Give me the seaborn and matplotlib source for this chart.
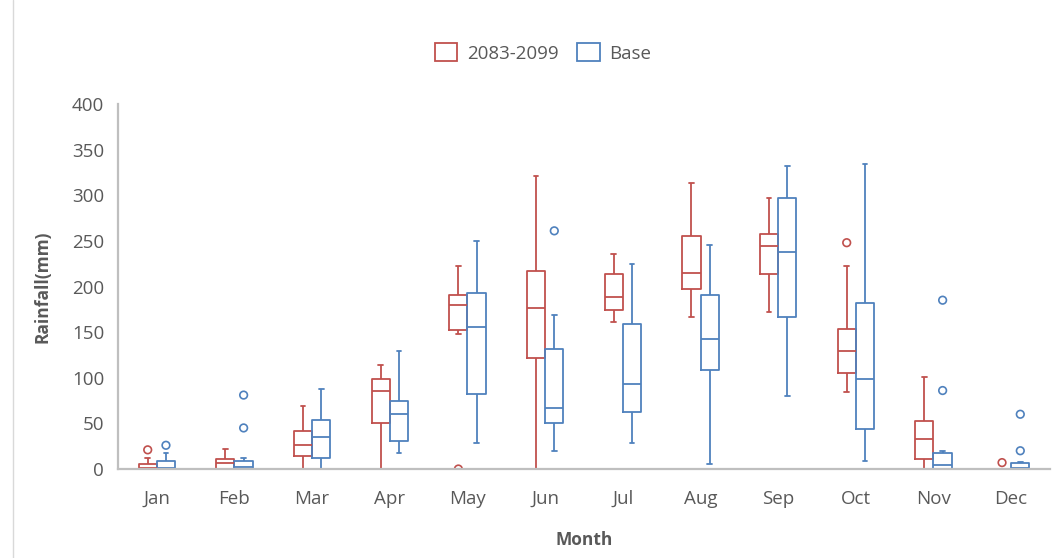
import numpy as np
import pandas as pd
import matplotlib
matplotlib.use("Agg")
import matplotlib.pyplot as plt
from matplotlib.patches import Patch
from matplotlib.lines import Line2D
import seaborn as sns

# ---- data: monthly rainfall (mm) box summaries ----
months = ["Jan", "Feb", "Mar", "Apr", "May", "Jun",
          "Jul", "Aug", "Sep", "Oct", "Nov", "Dec"]
periods = ["2083-2099", "Base"]

fut_low = [0, 0, 0, 0, 148, 0, 161, 167, 172, 84, 0, 0]
fut_q1 = [0, 0, 14, 50, 152, 122, 174, 197, 214, 105, 11, 0]
fut_med = [1, 7, 26, 86, 180, 176, 188, 215, 244, 129, 33, 0]
fut_q3 = [5, 11, 42, 99, 191, 217, 214, 255, 257, 153, 53, 0]
fut_high = [12, 22, 69, 114, 222, 321, 236, 313, 297, 223, 101, 0]
fut_out = {"Jan": [21], "May": [0], "Oct": [248], "Dec": [7]}

base_low = [0, 0, 0, 17, 29, 20, 29, 6, 80, 9, 0, 0]
base_q1 = [0, 0, 12, 31, 82, 50, 63, 108, 167, 44, 0, 0]
base_med = [1, 2, 35, 60, 156, 67, 93, 142, 238, 99, 4, 1]
base_q3 = [9, 9, 54, 75, 193, 131, 159, 191, 297, 182, 18, 7]
base_high = [17, 12, 88, 129, 250, 169, 225, 246, 332, 334, 20, 8]
base_out = {"Jan": [26], "Feb": [45, 81], "Jun": [261],
            "Nov": [86, 185], "Dec": [20, 60]}

yticks = [0, 50, 100, 150, 200, 250, 300, 350, 400]

# ---- styling ----
RED = "#C0504D"
BLUE = "#4F81BD"
TEXT = "#595959"
AXIS = "#BFBFBF"
BOX_WIDTH = 0.47

sns.set_theme(style="white")
plt.rcParams["font.family"] = ["Open Sans", "DejaVu Sans"]

# five-number summaries as long-form observations
rows = []
summaries = {
    "2083-2099": (fut_low, fut_q1, fut_med, fut_q3, fut_high),
    "Base": (base_low, base_q1, base_med, base_q3, base_high),
}
for period, stats in summaries.items():
    for i, m in enumerate(months):
        for arr in stats:
            rows.append({"Month": m, "Period": period, "Rainfall": arr[i]})
df = pd.DataFrame(rows)

# outliers placed at the centre of their dodged box
out_rows = []
for k, (period, outs) in enumerate([("2083-2099", fut_out), ("Base", base_out)]):
    shift = (-1 if k == 0 else 1) * BOX_WIDTH / 4
    for m, vals in outs.items():
        for v in vals:
            out_rows.append({"x": months.index(m) + shift, "y": v, "Period": period})
odf = pd.DataFrame(out_rows)

fig = plt.figure(figsize=(10.55, 5.58), dpi=100)
ax = fig.add_axes([118 / 1055, 1 - 469 / 558, (1050 - 118) / 1055, (469 - 104) / 558])

sns.boxplot(
    data=df, x="Month", y="Rainfall", hue="Period",
    order=months, hue_order=periods, palette=[RED, BLUE],
    fill=False, width=BOX_WIDTH, gap=0, whis=(0, 100),
    showfliers=False, linewidth=1.3, capwidths=0.06,
    legend=False, ax=ax,
)
sns.scatterplot(
    data=odf, x="x", y="y", hue="Period", hue_order=periods,
    palette=[RED, BLUE], marker="o", s=30, linewidth=1.2,
    facecolors="none", legend=False, ax=ax, zorder=3,
)
# open circles take their colour from the edge
for coll in ax.collections:
    fc = coll.get_facecolors()
    if len(fc):
        coll.set_edgecolors(fc)
        coll.set_facecolors("none")

ax.set_xlim(-0.5, len(months) - 0.5)
ax.set_ylim(0, 400)
ax.set_yticks(yticks)
ax.tick_params(axis="both", length=0, colors=TEXT, labelsize=13.5)
ax.tick_params(axis="y", pad=10)
ax.tick_params(axis="x", pad=15)

for side in ["top", "right"]:
    ax.spines[side].set_visible(False)
for side in ["left", "bottom"]:
    ax.spines[side].set_color(AXIS)
    ax.spines[side].set_linewidth(1.6)
    ax.spines[side].set_zorder(4)

ax.set_xlabel("Month", fontsize=12.5, fontweight="bold", color=TEXT)
ax.set_ylabel("Rainfall(mm)", fontsize=12.5, fontweight="bold", color=TEXT)
ax.xaxis.label.set_va("center")
ax.yaxis.label.set_va("center")
ax.xaxis.set_label_coords(0.5, (469 - 540) / 365)
ax.yaxis.set_label_coords((42 - 118) / 932, 0.5)

handles = [Patch(facecolor="none", edgecolor=RED, linewidth=1.3, label="2083-2099"),
           Patch(facecolor="none", edgecolor=BLUE, linewidth=1.3, label="Base")]
fig.legend(handles=handles, loc="center", bbox_to_anchor=(543 / 1055, 1 - 53 / 558),
           ncol=2, frameon=False, fontsize=13.5, labelcolor=TEXT,
           handlelength=1.2, handleheight=1.1, handletextpad=0.5, columnspacing=1.0)

# chart-area frame edge
fig.add_artist(Line2D([12.5 / 1055, 12.5 / 1055], [0, 1], transform=fig.transFigure,
                      color="#D9D9D9", linewidth=1))

fig.savefig("out.png", dpi=100)
